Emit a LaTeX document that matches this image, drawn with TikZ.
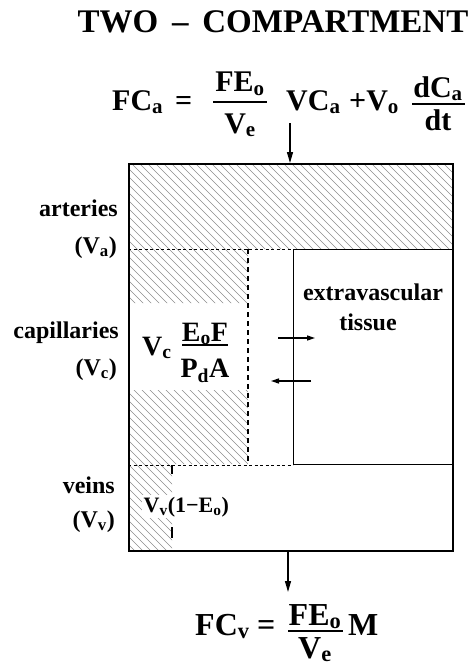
\documentclass[tikz,border=0pt]{standalone}
\usepackage{fontspec}
\setmainfont{Liberation Serif}
\usetikzlibrary{arrows.meta}
\newcommand{\sbx}[1]{\textsubscript{#1}}
\begin{document}
\begin{tikzpicture}[x=1pt,y=-1pt,
  every node/.style={inner sep=0pt},
  ttl/.style={font=\fontsize{33}{36}\selectfont\bfseries},
  eq/.style={font=\fontsize{30}{32}\selectfont\bfseries},
  beq/.style={font=\fontsize{32}{34}\selectfont\bfseries},
  cf/.style={font=\fontsize{28}{30}\selectfont\bfseries},
  lab/.style={font=\fontsize{24}{26}\selectfont\bfseries},
  vl/.style={font=\fontsize{22}{24}\selectfont\bfseries},
  fbar/.style={line width=2pt},
  hatch/.style={line width=0.6pt, black!45},
  outer/.style={draw, line width=2.4pt},
  innerbox/.style={draw, line width=1.3pt},
  dline/.style={line width=1pt, dash pattern=on 3pt off 2.5pt},
  vdash/.style={line width=1.6pt, dash pattern=on 5pt off 4pt},
  bigarr/.style={line width=1.4pt, -{Triangle[length=11pt,width=6pt]}},
  smarr/.style={line width=1.4pt, -{Triangle[length=8pt,width=5pt]}},
]
\useasboundingbox (0,0) rectangle (472,669);

% title
\node[ttl, anchor=base] (title) at (273,33) {TWO \,–\, COMPARTMENT};

% top equation
\node[eq, anchor=base west] (fca) at (112,110) {FC\sbx{a}};
\node[eq, anchor=base west] (eq1) at (175,110) {=};
\node[eq, anchor=base] (n1) at (240,92) {FE\sbx{o}};
\draw[fbar] (213,102) -- (267,102);
\node[eq, anchor=base] (d1) at (240,133) {V\sbx{e}};
\node[eq, anchor=base west] (vca) at (286,110) {VC\sbx{a}};
\node[eq, anchor=base west] (vo) at (349,110) {+V\sbx{o}};
\node[eq, anchor=base] (n2) at (438,97) {dC\sbx{a}};
\draw[fbar] (412,104) -- (465,104);
\node[eq, anchor=base] (d2) at (438,130) {dt};

% hatching
\begin{scope}
  \clip (128,163) rectangle (452,249)
        (128,249) rectangle (248,303)
        (128,390) rectangle (248,464)
        (128,464) rectangle (172,550);
  \foreach \c in {-560,-552,...,460} \draw[hatch] (\c,0) -- ++(669,669);
\end{scope}

% veins formula (white behind)
\node[vl, anchor=base west, fill=white, inner sep=1.5pt] (vvl) at (142,512) {V\sbx{v}(1−E\sbx{o})};

% extravascular box
\node[innerbox, anchor=north west, minimum width=159pt, minimum height=215pt] (ev) at (293,249) {};

% main box
\node[outer, anchor=north west, minimum width=324pt, minimum height=387pt] (box) at (128,163) {};

% dashed dividers
\draw[dline] (box.west |- ev.north) -- (ev.north west);
\draw[dline] (box.west |- ev.south) -- (ev.south west);

% capillary dashed boundary
\coordinate (cv1) at (248,249);
\coordinate (cv2) at (248,464);
\draw[vdash] (cv1) -- (cv2);

% veins ticks
\coordinate (vt1) at (172,465);
\coordinate (vt2) at (172,474);
\coordinate (vt3) at (172,527);
\coordinate (vt4) at (172,538);
\draw[line width=1.2pt] (vt1) -- (vt2);
\draw[line width=1.2pt] (vt3) -- (vt4);

% capillary formula
\node[cf, anchor=base west] (vc) at (142,355) {V\sbx{c}};
\node[cf, anchor=base] (n3) at (205,341) {E\sbx{o}F};
\draw[fbar, line width=2.5pt] (182,345) -- (228,345);
\node[cf, anchor=base] (d3) at (205,377) {P\sbx{d}A};

% labels
\node[lab, anchor=base east] (art) at (118,216) {arteries};
\node[lab, anchor=base east] (va) at (117,253) {(V\sbx{a})};
\node[lab, anchor=base east] (cap) at (119,338) {capillaries};
\node[lab, anchor=base east] (vcl) at (117,375) {(V\sbx{c})};
\node[lab, anchor=base east] (vei) at (115,493) {veins};
\node[lab, anchor=base east] (vv) at (115,527) {(V\sbx{v})};
\node[lab, anchor=base] (ext) at (373,300) {extravascular};
\node[lab, anchor=base] (tis) at (368,330) {tissue};

% exchange arrows
\coordinate (ra1) at (278,338);
\coordinate (ra2) at (315,338);
\coordinate (la1) at (311,381);
\coordinate (la2) at (271,381);
\draw[smarr] (ra1) -- (ra2);
\draw[smarr] (la1) -- (la2);

% in/out arrows
\coordinate (ain) at (290,123);
\draw[bigarr] (ain) -- (ain |- box.north);
\coordinate (aout) at (288,592);
\draw[bigarr] (aout |- box.south) -- (aout);

% bottom equation
\node[beq, anchor=base west] (fcv) at (195,635) {FC\sbx{v}};
\node[beq, anchor=base west] (eq2) at (257,635) {=};
\node[beq, anchor=base] (n4) at (315,625) {FE\sbx{o}};
\draw[fbar] (288,631) -- (343,631);
\node[beq, anchor=base] (d4) at (315,658) {V\sbx{e}};
\node[beq, anchor=base west] (m) at (348,635) {M};
\end{tikzpicture}
\end{document}
